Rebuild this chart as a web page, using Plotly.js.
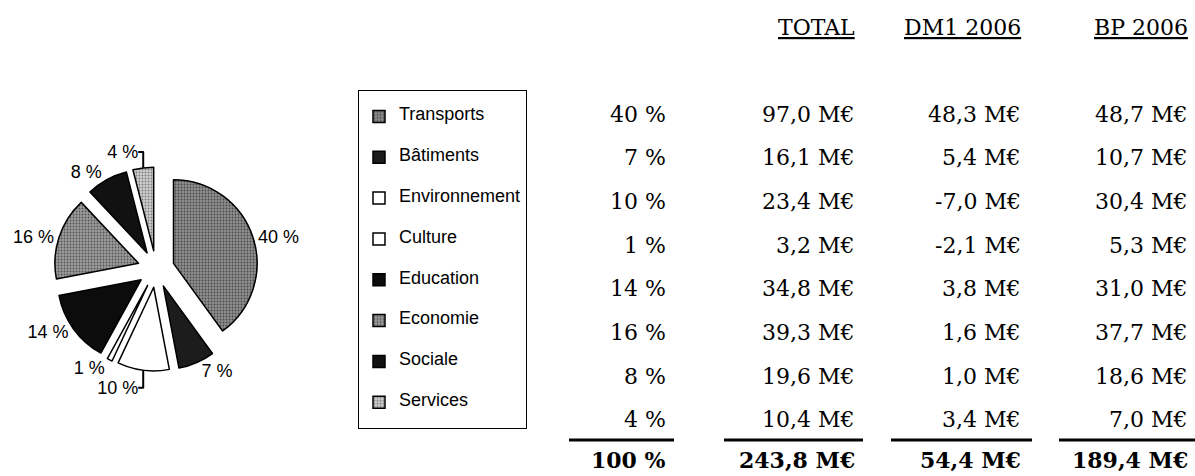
<!DOCTYPE html>
<html>
<head>
<meta charset="utf-8">
<script src="https://cdn.plot.ly/plotly-3.0.1.min.js"></script>
<style>html,body{margin:0;padding:0;background:#fff;}#chart{width:1195px;height:476px;}</style>
</head>
<body>
<div id="chart"></div>
<script>
// ---- data ----
const categories = ['Transports', 'Bâtiments', 'Environnement', 'Culture', 'Education', 'Economie', 'Sociale', 'Services'];
const shares = [40, 7, 10, 1, 14, 16, 8, 4];
const totals = [97.0, 16.1, 23.4, 3.2, 34.8, 39.3, 19.6, 10.4];
const dm1 = [48.3, 5.4, -7.0, -2.1, 3.8, 1.6, 1.0, 3.4];
const bp = [48.7, 10.7, 30.4, 5.3, 31.0, 37.7, 18.6, 7.0];
const headers = ['', 'TOTAL', 'DM1 2006', 'BP 2006'];
const footer = ['100 %', '243,8 M€', '54,4 M€', '189,4 M€'];

// ---- styles ----
const sliceColors = ['#8e8e8e', '#1c1c1c', '#ffffff', '#ffffff', '#0c0c0c', '#9c9c9c', '#111111', '#cfcfcf'];
const patternShapes = ['.', '', '', '', '', '.', '', '.'];
const patternFg = ['#4a4a4a', '#000', '#000', '#000', '#000', '#555555', '#000', '#7a7a7a'];
const W = 1195, H = 476;
const px = x => x / W;
const py = y => 1 - y / H;
const colRight = [668, 857, 1023, 1190];
const lineSpans = [[569, 674], [724, 863], [891, 1032], [1059, 1196]];
const rowTop = 114, rowStep = 43.7, headerY = 27, ruleY = 440, footerY = 460;
const tableFont = {family: 'DejaVu Serif', size: 22, color: '#000'};

const fmtM = v => v.toFixed(1).replace('.', ',') + ' M€';

const annotations = [];
function addText(text, colIdx, yPix, font) {
  annotations.push({
    text: text, xref: 'paper', yref: 'paper',
    x: px(colRight[colIdx]), y: py(yPix),
    xanchor: 'right', yanchor: 'middle', showarrow: false,
    font: font
  });
}
headers.forEach((h, c) => {
  if (h) addText(h, c, headerY, Object.assign({}, tableFont, {lineposition: 'under'}));
});
categories.forEach((cat, i) => {
  const y = rowTop + i * rowStep;
  addText(shares[i] + ' %', 0, y, tableFont);
  addText(fmtM(totals[i]), 1, y, tableFont);
  addText(fmtM(dm1[i]), 2, y, tableFont);
  addText(fmtM(bp[i]), 3, y, tableFont);
});
footer.forEach((f, c) => addText(f, c, footerY, Object.assign({}, tableFont, {weight: 'bold'})));

const shapes = lineSpans.map(s => ({
  type: 'line', xref: 'paper', yref: 'paper',
  x0: px(s[0]), x1: px(s[1]), y0: py(ruleY), y1: py(ruleY),
  line: {color: '#000', width: 3}
}));

const pieTrace = {
  type: 'pie',
  labels: categories.map(c => '\u00a0<br><span style="font-size:18px">' + c + '</span><br>\u00a0'),
  values: shares,
  text: shares.map(s => s + ' %'),
  textinfo: 'text',
  textposition: 'outside',
  outsidetextfont: {family: 'Liberation Sans', size: 18, color: '#000'},
  sort: false,
  direction: 'clockwise',
  rotation: 0,
  pull: 0.22,
  hoverinfo: 'skip',
  marker: {
    colors: sliceColors,
    line: {color: '#000', width: 1.5},
    pattern: {shape: patternShapes, fgcolor: patternFg, bgcolor: sliceColors, size: 3, solidity: 0.3}
  },
  domain: {x: [px(54), px(258)], y: [py(371), py(167)]}
};

const layout = {
  width: W, height: H,
  margin: {l: 0, r: 0, t: 0, b: 0},
  paper_bgcolor: '#fff', plot_bgcolor: '#fff',
  showlegend: true,
  legend: {
    x: px(358), y: py(90), xanchor: 'left', yanchor: 'top',
    bordercolor: '#000', borderwidth: 1, bgcolor: '#fff',
    font: {family: 'Liberation Sans', size: 9.7, color: '#000'},
    valign: 'middle', traceorder: 'normal'
  },
  annotations: annotations,
  shapes: shapes
};

Plotly.newPlot('chart', [pieTrace], layout, {displayModeBar: false, staticPlot: true});
</script>
</body>
</html>
